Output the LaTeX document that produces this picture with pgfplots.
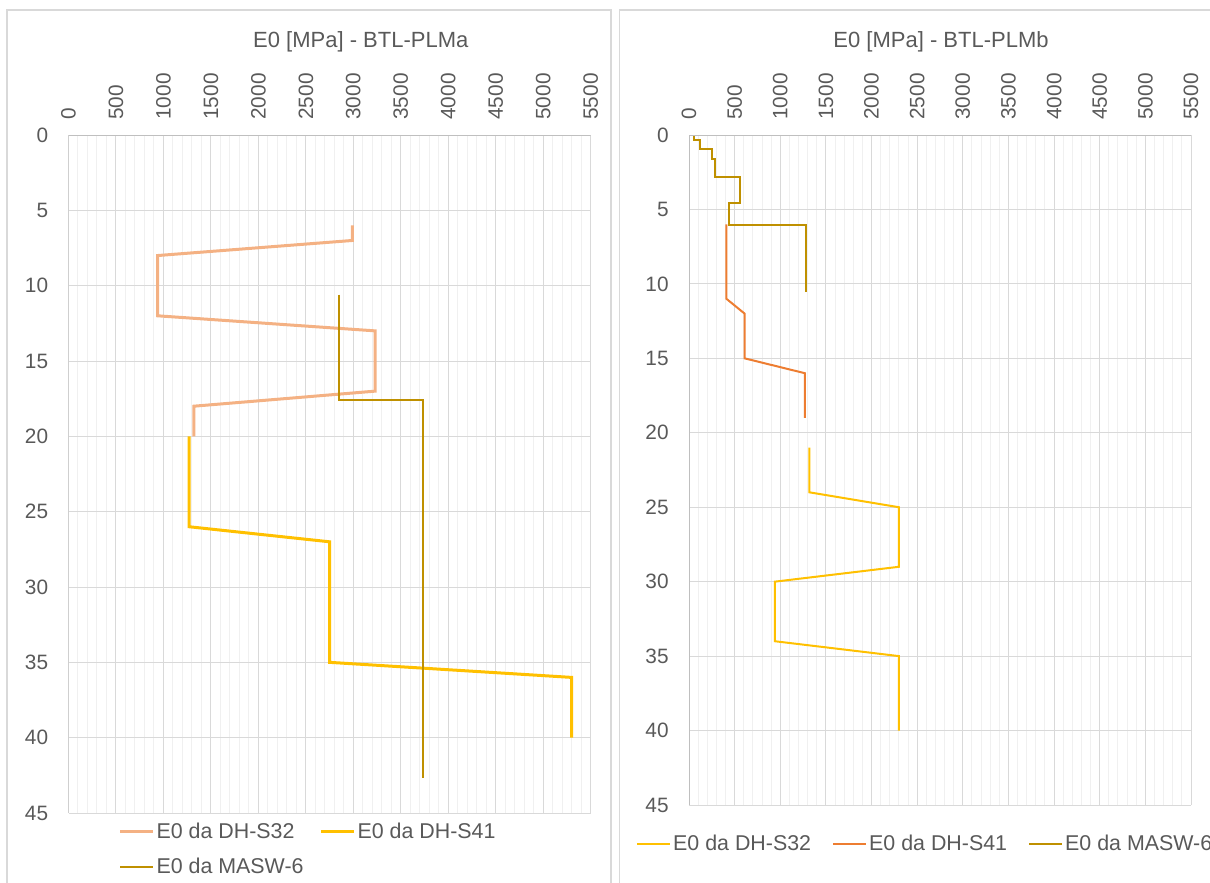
\documentclass[border=0pt]{standalone}
\usepackage{fontspec}
\setmainfont{Liberation Sans}
\usepackage{pgfplots}
\pgfplotsset{compat=1.18}
\definecolor{salmon}{HTML}{F4B183}
\definecolor{gold}{HTML}{FFC000}
\definecolor{darkgold}{HTML}{BF9000}
\definecolor{orangeS}{HTML}{ED7D31}
\definecolor{textgray}{HTML}{595959}
\definecolor{gridmajor}{HTML}{D9D9D9}
\definecolor{gridminor}{HTML}{F0F0F0}
\definecolor{axisgray}{HTML}{BFBFBF}
\definecolor{boxgray}{HTML}{D9D9D9}

\pgfplotsset{
  depthaxis/.style={
    scale only axis,
    xmin=0, xmax=5500, ymin=0, ymax=45,
    y dir=reverse,
    xtick={0,500,...,5500},
    ytick={0,5,...,45},
    minor x tick num=4,
    xmajorgrids, xminorgrids, ymajorgrids,
    major grid style={gridmajor, line width=0.5pt},
    minor grid style={gridminor, line width=0.5pt},
    axis line style={draw=none},
    major tick length=0pt, minor tick length=0pt,
    tick style={draw=none},
    xticklabel pos=upper,
    xticklabel style={rotate=90, anchor=west, inner sep=0pt, font=\fontsize{10.4}{12}\selectfont, text=textgray},
    yticklabel style={anchor=east, inner sep=0pt, font=\fontsize{10.4}{12}\selectfont, text=textgray},
    xticklabel shift=7.5pt,
    yticklabel shift=10pt,
    /pgf/number format/.cd, 1000 sep={}, assume math mode=true,
    /pgfplots/.cd,
    legend cell align=left,
    legend image code/.code={\draw[##1] (0pt,0pt) -- (16.5pt,0pt);},
  }
}

\begin{document}
\begin{tikzpicture}
\path[use as bounding box] (0pt,0pt) rectangle (605pt,441.5pt);
\draw[boxgray, line width=0.6pt] (3.5pt,-5pt) -- (3.5pt,436.5pt) -- (305.5pt,436.5pt) -- (305.5pt,-5pt);
\draw[boxgray, line width=0.6pt] (309.8pt,-5pt) -- (309.8pt,436.5pt) -- (612pt,436.5pt);

\node[text=textgray, font=\fontsize{11}{13}\selectfont] at (180.4pt,420.5pt) {E0 [MPa] - BTL-PLMa};
\node[text=textgray, font=\fontsize{11}{13}\selectfont] at (470.5pt,420.5pt) {E0 [MPa] - BTL-PLMb};

\begin{axis}[depthaxis,
  at={(34.25pt,35pt)}, anchor=south west,
  width=261.1pt, height=339pt,
  legend columns=2,
  legend style={at={(0.095,-0.012)}, anchor=north west, draw=none, fill=none,
    font=\fontsize{10.7}{12.5}\selectfont, text=textgray,
    inner sep=0pt, row sep=7.5pt,
    /tikz/every even column/.append style={column sep=7pt},
    nodes={inner xsep=1pt, inner ysep=0.5pt}},
]
\addplot[salmon, line width=1.5pt] coordinates {(2990,6) (2990,7) (940,8) (940,12) (3230,13) (3230,17) (1320,18) (1320,20)};
\addlegendentry{E0 da DH-S32}
\addplot[gold, line width=1.5pt] coordinates {(1270,20) (1270,26) (2750,27) (2750,35) (5300,36) (5300,40)};
\addlegendentry{E0 da DH-S41}
\addplot[darkgold, line width=1pt] coordinates {(2850,10.6) (2850,17.6) (3735,17.6) (3735,42.7)};
\addlegendentry{E0 da MASW-6}
\draw[axisgray, line width=0.6pt] (axis cs:0,45) -- (axis cs:0,0) -- (axis cs:5500,0);
\end{axis}

\begin{axis}[depthaxis,
  at={(344.5pt,39pt)}, anchor=south west,
  width=251pt, height=335pt,
  legend columns=3,
  legend style={at={(-0.106,-0.043)}, anchor=north west, draw=none, fill=none,
    font=\fontsize{10.7}{12.5}\selectfont, text=textgray,
    inner sep=0pt,
    /tikz/every even column/.append style={column sep=9.5pt},
    nodes={inner xsep=1pt, inner ysep=0.5pt}},
]
\addplot[gold, line width=1pt] coordinates {(1320,21) (1320,24) (2300,25) (2300,29) (940,30) (940,34) (2300,35) (2300,40)};
\addlegendentry{E0 da DH-S32}
\addplot[orangeS, line width=1pt] coordinates {(410,6) (410,11) (610,12) (610,15) (1270,16) (1270,19)};
\addlegendentry{E0 da DH-S41}
\addplot[darkgold, line width=1pt] coordinates {(60,0) (60,0.33) (120,0.33) (120,0.93) (255,0.93) (255,1.6) (280,1.6) (280,2.8) (560,2.8) (560,4.6) (440,4.6) (440,6.05) (1280,6.05) (1280,10.55)};
\addlegendentry{E0 da MASW-6}
\draw[axisgray, line width=0.6pt] (axis cs:0,45) -- (axis cs:0,0) -- (axis cs:5500,0);
\end{axis}
\end{tikzpicture}
\end{document}
